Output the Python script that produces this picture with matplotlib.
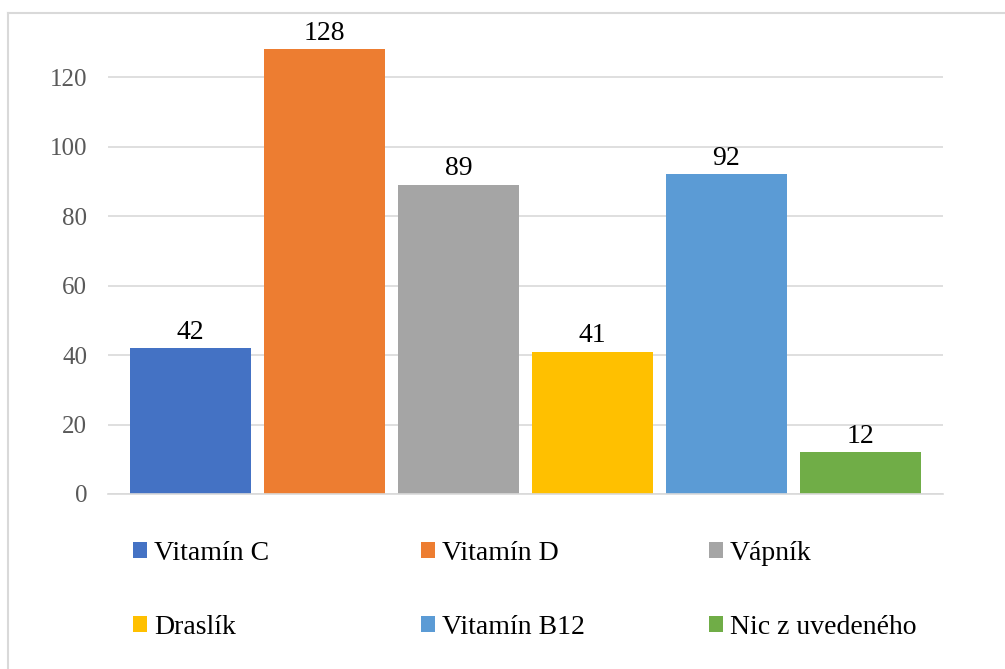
import matplotlib
matplotlib.use("Agg")
from matplotlib import pyplot as plt
from matplotlib.lines import Line2D

categories = ["Vitamín C", "Vitamín D", "Vápník", "Draslík", "Vitamín B12", "Nic z uvedeného"]
counts = [42, 128, 89, 41, 92, 12]
colors = ["#4472C4", "#ED7D31", "#A5A5A5", "#FFC000", "#5B9BD5", "#70AD47"]
yticks = [0, 20, 40, 60, 80, 100, 120]

plt.rcParams["font.family"] = ["Liberation Serif", "DejaVu Serif"]

W, H = 1005, 669
fig = plt.figure(figsize=(W / 100, H / 100), dpi=100)
ax = fig.add_axes([108 / W, 1 - 494 / H, 835 / W, 469 / H])

x = list(range(len(categories)))
bars = ax.bar(x, counts, width=0.91, color=colors, zorder=2)
ax.bar_label(bars, padding=2.5, fontsize=20, color="black")

ax.set_xlim(-0.616, 5.616)
ax.set_ylim(0, 135)
ax.set_yticks(yticks)
ax.set_xticks([])
ax.tick_params(axis="y", length=0, pad=15, labelsize=18, labelcolor="#595959")
ax.yaxis.grid(True, color="#D9D9D9", lw=1.2)
ax.set_axisbelow(True)
for side in ["top", "right", "left"]:
    ax.spines[side].set_visible(False)
ax.spines["bottom"].set_color("#D9D9D9")
ax.spines["bottom"].set_linewidth(1.2)

# legend: three columns, two rows
col_x = [133, 421, 709]
for j in range(3):
    fig.legend([bars[j], bars[j + 3]], [categories[j], categories[j + 3]],
               loc="center left", bbox_to_anchor=(col_x[j] / W, 1 - 590.5 / H),
               frameon=False, fontsize=20, handlelength=0.5, handleheight=0.5,
               handletextpad=0.25, labelspacing=1.75, borderpad=0, borderaxespad=0)

# chart border (top and left edges visible)
fig.add_artist(Line2D([8 / W, 1], [1 - 13 / H] * 2, transform=fig.transFigure,
                      color="#D9D9D9", lw=1.5))
fig.add_artist(Line2D([8 / W] * 2, [0, 1 - 13 / H], transform=fig.transFigure,
                      color="#D9D9D9", lw=1.5))

fig.savefig("out.png", dpi=100)
